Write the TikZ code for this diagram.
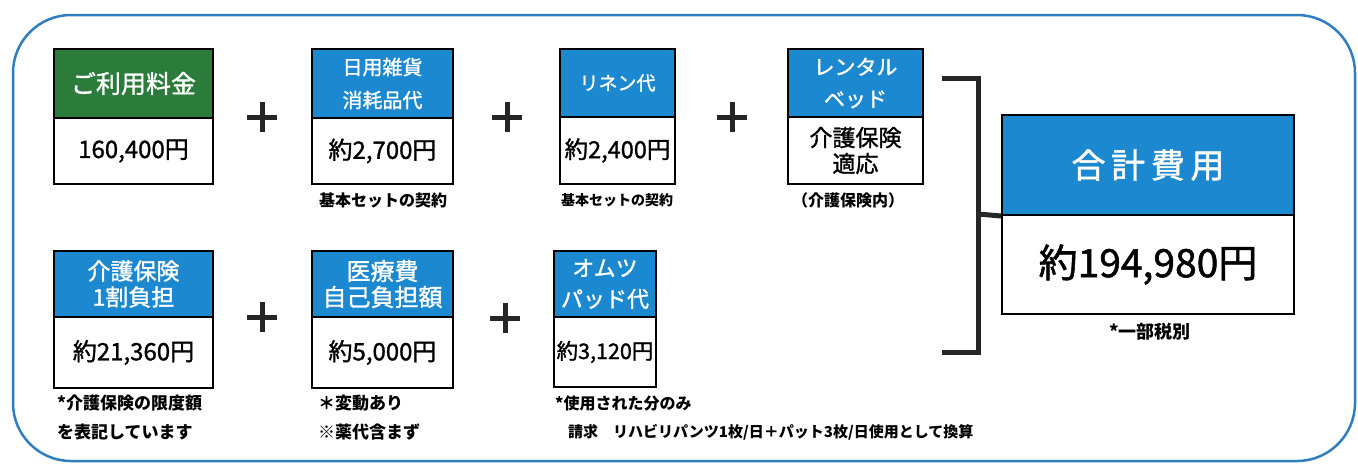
\documentclass[tikz,border=0pt]{standalone}
\usepackage{fontspec}
\setmainfont{Noto Sans CJK JP}
\newfontfamily\medjp[FakeBold=1.3]{Noto Sans CJK JP}
\definecolor{hgreen}{HTML}{2B7B3A}
\definecolor{hblue}{HTML}{1C88CF}
\definecolor{frameblue}{HTML}{2F7FC0}
\newcommand{\fsz}[1]{\fontsize{#1}{#1}\selectfont}
\tikzset{
  boxbase/.style={draw=black, line width=2pt, inner sep=0pt, anchor=north west, align=center},
  hdrblue/.style={boxbase, fill=hblue, text=white},
  hdrgreen/.style={boxbase, fill=hgreen, text=white},
  valbox/.style={boxbase, fill=white, text=black},
  note/.style={inner sep=0pt, text=black},
  plusline/.style={line width=5pt, black!85},
  bracketline/.style={line width=5pt, black!85},
}
\begin{document}
\begin{tikzpicture}[x=1pt,y=-1pt]
\useasboundingbox (0,0) rectangle (1358,464);
\fill[white] (0,0) rectangle (1358,464);
% frame
\draw[frameblue, line width=2.5pt, rounded corners=58pt] (13,15) rectangle (1355,461);

% ---- row 1 ----
\node[hdrgreen, minimum width=159pt, minimum height=69pt, font=\medjp\fsz{25}] (h1) at (53,48) {ご利用料金};
\node[valbox, minimum width=159pt, minimum height=66pt, font=\medjp\fsz{24}] (v1) at (53,117) {160,400円};

\node[hdrblue, minimum width=141pt, minimum height=69pt, font=\medjp\fontsize{20}{33}\selectfont] (h2) at (311,48) {日用雑貨\\消耗品代};
\node[valbox, minimum width=141pt, minimum height=66pt, font=\medjp\fsz{24}] (v2) at (311,117) {約2,700円};
\node[note, font=\fsz{16}\bfseries] (n2) at (383,200) {基本セットの契約};

\node[hdrblue, minimum width=115pt, minimum height=68pt, font=\medjp\fsz{19}] (h3) at (559,48) {リネン代};
\node[valbox, minimum width=115pt, minimum height=67pt, font=\medjp\fsz{23.5}] (v3) at (559,116) {約2,400円};
\node[note, font=\fsz{14}\bfseries] (n3) at (617,200) {基本セットの契約};

\node[hdrblue, minimum width=135pt, minimum height=68pt, font=\medjp\fontsize{21}{32}\selectfont] (h4) at (787,48) {レンタル\\ベッド};
\node[valbox, minimum width=135pt, minimum height=67pt, font=\medjp\fontsize{23}{26}\selectfont] (v4) at (787,116) {介護保険\\適応};
\node[note, font=\fsz{16}\bfseries] (n4) at (848,200) {（介護保険内）};

\draw[plusline] (247,117) -- (277,117) (262,102) -- (262,132);
\draw[plusline] (492,117) -- (522,117) (507,102) -- (507,132);
\draw[plusline] (717,117) -- (747,117) (732,102) -- (732,132);

% ---- row 2 ----
\node[hdrblue, minimum width=159pt, minimum height=66pt, font=\medjp\fontsize{23}{26}\selectfont] (h5) at (53,250) {介護保険\\1割負担};
\node[valbox, minimum width=159pt, minimum height=71pt, font=\medjp\fsz{24}] (v5) at (53,316) {約21,360円};
\node[note, anchor=west, font=\fsz{17}\bfseries] (n5a) at (57,403) {*介護保険の限度額};
\node[note, anchor=west, font=\fsz{17}\bfseries] (n5b) at (57,432) {を表記しています};

\node[hdrblue, minimum width=141pt, minimum height=66pt, font=\medjp\fontsize{24}{26}\selectfont] (h6) at (311,250) {医療費\\自己負担額};
\node[valbox, minimum width=141pt, minimum height=71pt, font=\medjp\fsz{24}] (v6) at (311,316) {約5,000円};
\node[note, anchor=west, font=\fsz{17}\bfseries] (n6a) at (318,403) {＊変動あり};
\node[note, anchor=west, font=\fsz{17}\bfseries] (n6b) at (318,432) {※薬代含まず};

\node[hdrblue, minimum width=102pt, minimum height=66pt, font=\medjp\fontsize{22}{31}\selectfont] (h7) at (553,250) {オムツ\\パッド代};
\node[valbox, minimum width=102pt, minimum height=70pt, font=\medjp\fsz{21.5}] (v7) at (553,316) {約3,120円};
\node[note, anchor=west, font=\fsz{16}\bfseries] (n7a) at (555,403) {*使用された分のみ};
\node[note, anchor=west, font=\fsz{15}\bfseries] (n7b) at (568,432) {請求　リハビリパンツ1枚/日＋パット3枚/日使用として換算};

\draw[plusline] (247,317) -- (277,317) (262,302) -- (262,332);
\draw[plusline] (490,318) -- (520,318) (505,303) -- (505,333);

% ---- bracket and total ----
\draw[bracketline] (942,78) -- (978,78) -- (978,352) -- (942,352);
\coordinate (brk) at (978,214);

\node[hdrblue, minimum width=292pt, minimum height=100pt, font=\medjp\fsz{34}] (ht) at (1001,114) {合\,計\,費\,用};
\node[valbox, minimum width=292pt, minimum height=99pt, font=\medjp\fsz{39}] (vt) at (1001,214) {約194,980円};
\node[note, font=\fsz{18}\bfseries] (nt) at (1150,332) {*一部税別};
\draw[bracketline] (brk) -- (ht.south west);
\end{tikzpicture}
\end{document}
